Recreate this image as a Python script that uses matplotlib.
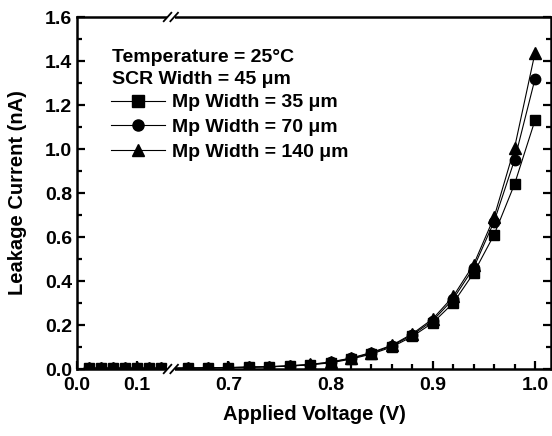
import numpy as np
import matplotlib
matplotlib.use("Agg")
import matplotlib.pyplot as plt
from matplotlib.lines import Line2D

# --- data ---
voltage = [0.02, 0.04, 0.06, 0.08, 0.10, 0.12, 0.14,
           0.66, 0.68, 0.70, 0.72, 0.74, 0.76, 0.78, 0.80, 0.82, 0.84,
           0.86, 0.88, 0.90, 0.92, 0.94, 0.96, 0.98, 1.00]
mp35 = [0.003, 0.003, 0.003, 0.003, 0.003, 0.003, 0.003,
        0.004, 0.005, 0.006, 0.008, 0.010, 0.013, 0.019, 0.028, 0.045, 0.068,
        0.100, 0.148, 0.210, 0.300, 0.436, 0.610, 0.840, 1.130]
mp70 = [0.003, 0.003, 0.003, 0.003, 0.003, 0.003, 0.003,
        0.004, 0.005, 0.006, 0.008, 0.010, 0.014, 0.020, 0.030, 0.048, 0.072,
        0.105, 0.155, 0.220, 0.318, 0.460, 0.670, 0.950, 1.318]
mp140 = [0.004, 0.004, 0.004, 0.004, 0.004, 0.004, 0.004,
         0.005, 0.006, 0.007, 0.009, 0.011, 0.015, 0.021, 0.032, 0.050, 0.075,
         0.108, 0.160, 0.228, 0.330, 0.475, 0.690, 1.005, 1.436]
labels = ["Mp Width = 35 \u03bcm", "Mp Width = 70 \u03bcm", "Mp Width = 140 \u03bcm"]
markers = ["s", "o", "^"]
xticks = [0.0, 0.1, 0.7, 0.8, 0.9, 1.0]
xminor = [0.02, 0.04, 0.06, 0.08, 0.12, 0.14,
          0.66, 0.68, 0.72, 0.74, 0.76, 0.78, 0.82, 0.84, 0.86, 0.88,
          0.92, 0.94, 0.96, 0.98]

# broken x axis: 0 - 0.155 on the left, 0.643 - 1.016 on the right
L_END, R_START = 0.155, 0.643
K_LEFT = 600.0 / 1020.0


def fwd(x):
    x = np.asarray(x, dtype=float)
    left = x * K_LEFT
    right = L_END * K_LEFT + (x - R_START)
    mid = np.full_like(x, L_END * K_LEFT)
    return np.where(x <= L_END, left, np.where(x >= R_START, right, mid))


def inv(u):
    u = np.asarray(u, dtype=float)
    b = L_END * K_LEFT
    return np.where(u <= b, u / K_LEFT, R_START + (u - b))


plt.rcParams['font.family'] = ['Liberation Sans', 'DejaVu Sans']
plt.rcParams['font.weight'] = 'bold'
plt.rcParams['axes.labelweight'] = 'bold'

fig = plt.figure(figsize=(5.52, 4.36), dpi=100)
ax = fig.add_axes([77 / 552, 67 / 436, 474 / 552, 352 / 436])
ax.set_xscale('function', functions=(fwd, inv))

for y, lab, m in zip([mp35, mp70, mp140], labels, markers):
    ax.plot(voltage, y, color='black', lw=0.8, marker=m, ms=7.5 if m != "^" else 8.5,
            mfc='black', mec='black', label=lab)

ax.set_xlim(0, 1.0157)
ax.set_ylim(0, 1.6)
ax.set_xticks(xticks)
ax.set_xticklabels(["0.0", "0.1", "0.7", "0.8", "0.9", "1.0"])
ax.set_xticks(xminor, minor=True)
ax.set_yticks(np.arange(0, 1.61, 0.2))
ax.set_yticks(np.arange(0.1, 1.6, 0.2), minor=True)
ax.tick_params(which='both', direction='in', width=1.6, labelsize=14, right=True)
ax.tick_params(which='major', length=6)
ax.tick_params(which='minor', length=3.5)
ax.tick_params(axis='x', which='both', top=False, pad=6)
for s in ax.spines.values():
    s.set_linewidth(1.8)

ax.set_xlabel("Applied Voltage (V)", fontsize=14.5, fontweight='bold', labelpad=8)
ax.set_ylabel("Leakage Current (nA)", fontsize=14.5, fontweight='bold', labelpad=13)

# axis-break marks on top and bottom spines
bx = 0.198
for yy in (0.0, 1.0):
    ax.plot([bx - 0.009, bx + 0.009], [yy, yy], transform=ax.transAxes, color='white',
            lw=4, clip_on=False, zorder=5, solid_capstyle='butt')
    for dx in (-0.007, 0.007):
        ax.plot([bx + dx - 0.008, bx + dx + 0.008], [yy - 0.012, yy + 0.012],
                transform=ax.transAxes, color='black', lw=1.3, clip_on=False, zorder=6)

# annotation text and legend
ax.text(35 / 474, 1 - 40 / 352, "Temperature = 25\u00b0C", transform=ax.transAxes,
        fontsize=14, fontweight='bold', va='center')
ax.text(35 / 474, 1 - 62 / 352, "SCR Width = 45 \u03bcm", transform=ax.transAxes,
        fontsize=14, fontweight='bold', va='center')
handles = [Line2D([], [], color='black', lw=0.8, marker=m, ms=8, mfc='black')
           for m in markers]
ax.legend(handles, labels, loc='upper left', bbox_to_anchor=(26 / 474, 1 - 69 / 352),
          frameon=False, handlelength=2.8, handletextpad=0.36, labelspacing=0.36,
          prop={'size': 14, 'weight': 'bold'}, borderaxespad=0)

fig.savefig("out.png", dpi=100)
